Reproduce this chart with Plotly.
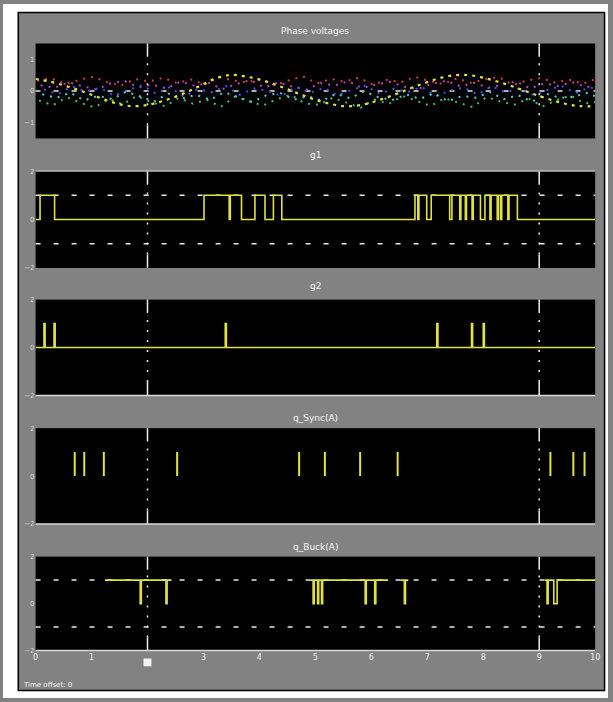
import plotly.graph_objects as go
from plotly.subplots import make_subplots

# ---------------- data ----------------
panel_titles = ["Phase voltages", "g1", "g2", "q_Sync(A)", "q_Buck(A)"]
x_tick_vals = [0, 1, 2, 3, 4, 5, 6, 7, 8, 9, 10]
x_tick_text = ["0", "1", "", "3", "4", "5", "6", "7", "8", "9", "10"]
cursor_times = [2, 9]

t_sine = [0, 0.25, 0.5, 0.75, 1.0, 1.25, 1.5, 1.75, 2.0, 2.25, 2.5, 2.75, 3.0, 3.25,
          3.5, 3.75, 4.0, 4.25, 4.5, 4.75, 5.0, 5.25, 5.5, 5.75, 6.0, 6.25, 6.5, 6.75,
          7.0, 7.25, 7.5, 7.75, 8.0, 8.25, 8.5, 8.75, 9.0, 9.25, 9.5, 9.75, 10.0]
v_yellow = [0.38, 0.30, 0.18, 0.04, -0.12, -0.28, -0.42, -0.48, -0.44, -0.33, -0.18, 0.00,
            0.22, 0.42, 0.51, 0.46, 0.36, 0.22, 0.06, -0.12, -0.28, -0.40, -0.48, -0.46,
            -0.36, -0.22, -0.06, 0.12, 0.28, 0.42, 0.50, 0.50, 0.42, 0.30, 0.16, 0.00,
            -0.16, -0.30, -0.42, -0.48, -0.48]
v_red = [0.32, 0.40, 0.22, 0.35, 0.45, 0.28, 0.18, 0.38, 0.30, 0.42, 0.25, 0.36, 0.20, 0.44,
         0.33, 0.27, 0.40, 0.18, 0.34, 0.46, 0.24, 0.38, 0.30, 0.42, 0.20, 0.35, 0.28, 0.45,
         0.32, 0.22, 0.40, 0.26, 0.37, 0.44, 0.19, 0.33, 0.41, 0.27, 0.36, 0.23, 0.39]
v_magenta = [0.18, 0.10, 0.28, 0.15, 0.05, 0.24, 0.32, 0.12, 0.20, 0.08, 0.30, 0.16, 0.26, 0.06,
             0.22, 0.34, 0.11, 0.27, 0.14, 0.04, 0.25, 0.17, 0.31, 0.09, 0.21, 0.29, 0.13, 0.07,
             0.23, 0.33, 0.15, 0.26, 0.10, 0.19, 0.30, 0.08, 0.24, 0.16, 0.28, 0.12, 0.20]
v_blue = [0.05, -0.10, 0.15, -0.02, 0.10, -0.15, 0.02, 0.18, -0.08, 0.12, -0.18, 0.06, -0.04,
          0.16, -0.12, 0.08, 0.00, -0.16, 0.14, -0.06, 0.10, -0.14, 0.04, 0.17, -0.09, 0.07,
          -0.03, 0.13, -0.17, 0.01, 0.11, -0.11, 0.15, -0.05, 0.09, -0.13, 0.03, 0.16, -0.07,
          0.12, -0.01]
v_green = [-0.30, -0.45, -0.20, -0.38, -0.52, -0.25, -0.42, -0.15, -0.35, -0.48, -0.22, -0.40,
           -0.28, -0.50, -0.18, -0.33, -0.46, -0.26, -0.12, -0.39, -0.44, -0.21, -0.36, -0.53,
           -0.27, -0.41, -0.16, -0.31, -0.47, -0.23, -0.37, -0.51, -0.19, -0.34, -0.43, -0.24,
           -0.49, -0.29, -0.14, -0.40, -0.32]
v_cyan = [-0.10, -0.22, -0.05, -0.30, -0.15, -0.26, -0.02, -0.18, -0.33, -0.08, -0.24, -0.12,
          -0.28, -0.04, -0.20, -0.35, -0.14, -0.06, -0.27, -0.17, -0.31, -0.09, -0.23, -0.01,
          -0.19, -0.29, -0.11, -0.25, -0.07, -0.32, -0.16, -0.21, -0.03, -0.26, -0.13, -0.34,
          -0.08, -0.22, -0.18, -0.05, -0.28]
dot_offsets = [0.03, 0.09, 0.15, 0.06, 0.12]

p2_t = [0, 0.08, 0.34, 3.01, 3.46, 3.48, 3.68, 3.92, 4.10, 4.25, 4.40, 6.78, 6.83, 6.85,
        6.99, 7.07, 7.40, 7.44, 7.58, 7.60, 7.68, 7.70, 7.80, 7.82, 7.95, 8.03, 8.12, 8.14,
        8.25, 8.27, 8.31, 8.33, 8.44, 8.46, 8.61, 10]
p2_v = [0, 1, 0, 1, 0, 1, 0, 1, 0, 1, 0, 1, 0, 1, 0, 1, 0, 1, 0, 1, 0, 1, 0, 1, 0, 1, 0, 1,
        0, 1, 0, 1, 0, 1, 0, 0]

p3_t = [0, 0.15, 0.17, 0.33, 0.35, 3.39, 3.41, 7.17, 7.19, 7.79, 7.81, 8.00, 8.02, 10]
p3_v = [0, 1, 0, 1, 0, 1, 0, 1, 0, 1, 0, 1, 0, 0]

p4_spikes = [0.70, 0.87, 1.22, 2.53, 4.71, 5.17, 5.80, 6.47, 9.20, 9.61, 9.81]

p5_t = [1.24, 1.87, 1.89, 2.33, 2.35, 2.43, None,
        4.91, 4.96, 4.98, 5.04, 5.06, 5.11, 5.13, 5.89, 5.91, 6.06, 6.08, 6.30, None,
        6.52, 6.59, 6.61, 6.66, None,
        9.10, 9.14, 9.16, 9.26, 9.32, 10]
p5_v = [1, 0, 1, 0, 1, 1, None,
        1, 0, 1, 0, 1, 0, 1, 0, 1, 0, 1, 1, None,
        1, 0, 1, 1, None,
        1, 0, 1, 0, 1, 1]

y_ranges = [[-1.5, 1.5], [-2, 2], [-2, 2], [-2, 2], [-2, 2]]
y_ticks = [[-1, 0, 1], [-2, 0, 2], [-2, 0, 2], [-2, 0, 2], [-2, 0, 2]]
grid_levels = [[0], [-1, 1], [], [], [-1, 1]]

# ---------------- layout constants ----------------
W, H = 613, 702
panel_px = [(40, 136), (169, 267), (299, 396), (429, 526), (559, 654)]
title_px = [27, 153, 285, 419, 549]
x_left, x_right = 33, 600
YEL = "#e2e23e"
GRAY = "#828282"

fig = make_subplots(rows=5, cols=1)

# panel 1
series = [("red", v_red, "#d83a3a"), ("magenta", v_magenta, "#c040c0"),
          ("blue", v_blue, "#4050f0"), ("green", v_green, "#40c050"),
          ("cyan", v_cyan, "#50d0d0")]
for k, (nm, vals, col) in enumerate(series):
    fig.add_trace(go.Scatter(x=[t + dot_offsets[k] for t in t_sine], y=vals, mode="lines",
                             line=dict(color=col, width=2, dash="2px,6px"),
                             name=nm, showlegend=False), row=1, col=1)
fig.add_trace(go.Scatter(x=t_sine, y=v_yellow, mode="lines",
                         line=dict(color=YEL, width=2.2, dash="3px,5px", shape="spline"),
                         showlegend=False), row=1, col=1)

fig.add_trace(go.Scatter(x=p2_t, y=p2_v, mode="lines", line=dict(color=YEL, width=1.6, shape="hv"),
                         showlegend=False), row=2, col=1)
fig.add_trace(go.Scatter(x=p3_t, y=p3_v, mode="lines", line=dict(color=YEL, width=1.6, shape="hv"),
                         showlegend=False), row=3, col=1)
sx, sy = [], []
for t in p4_spikes:
    sx += [t, t, None]
    sy += [0, 1, None]
fig.add_trace(go.Scatter(x=sx, y=sy, mode="lines", line=dict(color=YEL, width=2),
                         showlegend=False), row=4, col=1)
fig.add_trace(go.Scatter(x=p5_t, y=p5_v, mode="lines", line=dict(color=YEL, width=1.6, shape="hv"),
                         connectgaps=False, showlegend=False), row=5, col=1)

shapes = []
annotations = []
for i in range(5):
    n = "" if i == 0 else str(i + 1)
    top, bot = panel_px[i]
    fig.layout["yaxis" + n].update(domain=[1 - bot / H, 1 - top / H], range=y_ranges[i],
                                   tickvals=y_ticks[i], showgrid=False, zeroline=False,
                                   tickfont=dict(size=7, color="#d8d8d8"), ticks="",
                                   fixedrange=True)
    fig.layout["xaxis" + n].update(domain=[x_left / W, x_right / W], range=[0, 10],
                                   showgrid=False, zeroline=False, ticks="",
                                   tickvals=x_tick_vals, ticktext=x_tick_text,
                                   showticklabels=(i == 4),
                                   tickfont=dict(size=8, color="#f0f0f0"))
    xr, yr = "x" + n, "y" + n
    for lev in grid_levels[i]:
        shapes.append(dict(type="line", xref=xr + " domain", yref=yr, x0=0, x1=1, y0=lev, y1=lev,
                           line=dict(color="#e8e8e8", width=1.5, dash="5px,13px"), layer="below"))
    for tc in cursor_times:
        shapes.append(dict(type="line", xref=xr, yref=yr + " domain", x0=tc, x1=tc, y0=0, y1=0.14,
                           line=dict(color="#f0f0f0", width=1.5), layer="above"))
        shapes.append(dict(type="line", xref=xr, yref=yr + " domain", x0=tc, x1=tc, y0=0.86, y1=1,
                           line=dict(color="#f0f0f0", width=1.5), layer="above"))
        shapes.append(dict(type="line", xref=xr, yref=yr + " domain", x0=tc, x1=tc, y0=0.14, y1=0.86,
                           line=dict(color="#f0f0f0", width=1.5, dash="2px,8px"), layer="above"))
    if i >= 2:
        shapes.append(dict(type="line", xref=xr + " domain", yref=yr + " domain", x0=0, x1=1, y0=0, y1=0,
                           line=dict(color="#d8d8d8", width=1.5), layer="above"))
    if i == 1:
        shapes.append(dict(type="line", xref=xr + " domain", yref=yr + " domain", x0=0, x1=1, y0=1, y1=1,
                           line=dict(color="#b8b8b8", width=1.5), layer="above"))
    annotations.append(dict(text=panel_titles[i], x=(x_left + x_right) / 2 / W, y=1 - title_px[i] / H,
                            xref="paper", yref="paper", showarrow=False, xanchor="center", yanchor="middle",
                            font=dict(size=9, color="#f4f4f4", family="DejaVu Sans")))

# cursor marker square on time axis
shapes.append(dict(type="rect", xref="x5", yref="paper", x0=1.93, x1=2.07,
                   y0=1 - 670 / H, y1=1 - 662 / H, fillcolor="#f4f4f4", line=dict(width=0)))

# white margins and black frame
shapes += [
    dict(type="rect", xref="paper", yref="paper", x0=0, x1=15 / W, y0=0, y1=1,
         fillcolor="white", line=dict(width=0), layer="above"),
    dict(type="rect", xref="paper", yref="paper", x0=610 / W, x1=1, y0=0, y1=1,
         fillcolor="white", line=dict(width=0), layer="above"),
    dict(type="rect", xref="paper", yref="paper", x0=0, x1=1, y0=1 - 8 / H, y1=1,
         fillcolor="white", line=dict(width=0), layer="above"),
    dict(type="rect", xref="paper", yref="paper", x0=0, x1=1, y0=0, y1=1 - 695 / H,
         fillcolor="white", line=dict(width=0), layer="above"),
    dict(type="rect", xref="paper", yref="paper", x0=15.5 / W, x1=609.5 / W, y0=1 - 694.5 / H, y1=1 - 8.5 / H,
         fillcolor="rgba(0,0,0,0)", line=dict(color="black", width=1.5), layer="above"),
]
annotations.append(dict(text="Time offset: 0", x=18 / W, y=1 - 689 / H, xref="paper", yref="paper",
                        showarrow=False, xanchor="left", yanchor="middle",
                        font=dict(size=7, color="#f0f0f0", family="DejaVu Sans")))

fig.update_layout(width=W, height=H, margin=dict(l=0, r=0, t=0, b=0),
                  paper_bgcolor=GRAY, plot_bgcolor="black", showlegend=False,
                  shapes=shapes, annotations=annotations,
                  font=dict(family="DejaVu Sans", color="#f0f0f0"))

fig.write_html("out.html", config={"displayModeBar": False},
               post_script="document.body.style.margin='0';document.body.style.overflow='hidden';")
